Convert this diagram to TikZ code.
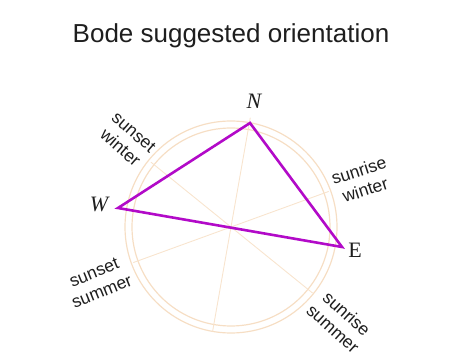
\documentclass[tikz,border=0pt]{standalone}
\usepackage{fontspec}
\setmainfont{Liberation Sans}
\newfontfamily\serifit{Liberation Serif}
\definecolor{tri}{RGB}{178,10,200}
\definecolor{ring}{RGB}{246,222,196}
\definecolor{ray}{RGB}{248,228,206}
\definecolor{ink}{RGB}{30,30,30}
\begin{document}
\begin{tikzpicture}[x=1pt,y=-1pt,
  ringline/.style={draw=ring,line width=1.2pt},
  rayline/.style={draw=ray,line width=0.9pt},
  sidelabel/.style={text=ink,font=\fontsize{17.5}{20.5}\selectfont,align=center,inner sep=0pt},
  letterlabel/.style={text=ink,font=\fontsize{22}{24}\serifit,inner sep=0pt},
  triline/.style={draw=tri,line width=2.6pt,line join=miter}]
\useasboundingbox (0,0) rectangle (460,352);
\node[text=ink,font=\fontsize{26}{28}\selectfont,anchor=base] (title) at (231,43) {Bode suggested orientation};
\coordinate (C) at (231,227);
% rings
\draw[ringline] (C) circle[radius=106];
\draw[ringline] (C) circle[radius=99];
% rays
\draw[rayline] (C) ++(-20:104) -- ++(160:208);
\draw[rayline] (C) ++(-80:111) -- ++(100:217);
\draw[rayline] (C) ++(-141:103) -- ++(39:208);
% triangle
\coordinate (N) at (250,123);
\coordinate (W) at (118,208);
\coordinate (E) at (342,247);
\draw[triline] (N) -- (W) -- (E) -- cycle;
% letters
\node[letterlabel] (nl) at (254,101) {\itshape N};
\node[letterlabel] (wl) at (99,204) {\itshape W};
\node[letterlabel] (el) at (355,250) {E};
% side labels
\node[sidelabel,rotate=-41] (sw) at (127,140) {sunset\\winter};
\node[sidelabel,rotate=18] (rw) at (362,180) {sunrise\\winter};
\node[sidelabel,rotate=22] (ss) at (98,282) {sunset\\summer};
\node[sidelabel,rotate=-42] (rs) at (340,321) {sunrise\\summer};
\end{tikzpicture}
\end{document}
